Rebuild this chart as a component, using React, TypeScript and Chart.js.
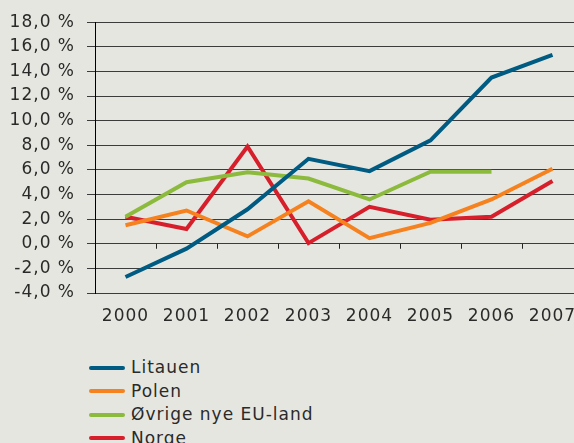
import React, { useEffect, useRef } from "react";
import { Chart, registerables } from "chart.js";

Chart.register(...registerables);

const years = ["2000", "2001", "2002", "2003", "2004", "2005", "2006", "2007"];
const litauen = [-2.7, -0.4, 2.8, 6.9, 5.9, 8.4, 13.5, 15.35];
const polen = [1.5, 2.7, 0.6, 3.45, 0.45, 1.7, 3.6, 6.1];
const ovrige = [2.2, 5.0, 5.8, 5.3, 3.6, 5.85, 5.85, null];
const norge = [2.2, 1.2, 7.9, 0.05, 3.0, 1.95, 2.2, 5.1];

const seriesNames = ["Litauen", "Polen", "Øvrige nye EU-land", "Norge"];
const seriesColors = ["#005b82", "#f5821f", "#8cba3c", "#d71f2b"];

const yMin = -4;
const yMax = 18;
const yStep = 2;

const BG = "#e6e6e0";
const FONT = "'DejaVu Sans', sans-serif";
const TEXT = "#2a2a2a";

const spacingPlugin = {
  id: "spacing",
  beforeLayout(chart: any) {
    chart.ctx.letterSpacing = "1px";
  },
  beforeDraw(chart: any) {
    chart.ctx.letterSpacing = "1px";
  },
};

const zeroTicksPlugin = {
  id: "zeroTicks",
  beforeDatasetsDraw(chart: any) {
    const x = chart.scales.x;
    const y = chart.scales.y;
    const ctx = chart.ctx;
    const y0 = y.getPixelForValue(0);
    ctx.save();
    ctx.strokeStyle = "#222";
    ctx.lineWidth = 1;
    for (let i = 1; i < years.length; i++) {
      const xp = Math.round((x.getPixelForValue(i - 1) + x.getPixelForValue(i)) / 2) + 0.5;
      ctx.beginPath();
      ctx.moveTo(xp, y0);
      ctx.lineTo(xp, y0 + 5);
      ctx.stroke();
    }
    ctx.restore();
  },
};

export default function App() {
  const ref = useRef<HTMLCanvasElement>(null);
  useEffect(() => {
    if (!ref.current) return;
    const data = [litauen, polen, ovrige, norge];
    const chart = new Chart(ref.current, {
      type: "line",
      data: {
        labels: years,
        datasets: data.map((d, i) => ({
          label: seriesNames[i],
          data: d as any,
          borderColor: seriesColors[i],
          backgroundColor: seriesColors[i],
          borderWidth: 4,
          pointRadius: 0,
          tension: 0,
          spanGaps: false,
        })),
      },
      options: {
        animation: false,
        responsive: true,
        maintainAspectRatio: false,
        layout: { padding: { top: 19, left: 0, right: 0, bottom: 0 } },
        plugins: {
          legend: { display: false },
          tooltip: { enabled: false },
        },
        scales: {
          x: {
            offset: true,
            grid: { display: false },
            border: { display: false },
            ticks: {
              color: TEXT,
              font: { family: FONT, size: 17 },
              padding: 5,
              maxRotation: 0,
              autoSkip: false,
            },
            afterFit(scale: any) {
              scale.height = 47;
            },
          },
          y: {
            min: yMin,
            max: yMax,
            ticks: {
              stepSize: yStep,
              color: TEXT,
              font: { family: FONT, size: 17 },
              padding: 12,
              callback: (v: any) => Number(v).toFixed(1).replace(".", ",") + " %",
            },
            grid: { color: "#3c3c3c", lineWidth: 1, tickLength: 8 },
            border: { display: true, color: "#000", width: 1 },
            afterFit(scale: any) {
              scale.width = 95;
            },
          },
        },
      },
      plugins: [spacingPlugin, zeroTicksPlugin],
    });
    return () => chart.destroy();
  }, []);

  return (
    <div
      style={{
        position: "fixed",
        left: 0,
        top: 0,
        width: 574,
        height: 443,
        overflow: "hidden",
        background: BG,
      }}
    >
      <div style={{ position: "absolute", left: 0, top: 0, width: 583, height: 340 }}>
        <canvas ref={ref} />
      </div>
      <div style={{ position: "absolute", left: 89, top: 356, fontFamily: FONT, fontSize: 17, color: TEXT, letterSpacing: "1px" }}>
        {seriesNames.map((n, i) => (
          <div key={n} style={{ display: "flex", alignItems: "center", height: 23.5 }}>
            <span
              style={{
                display: "inline-block",
                width: 36,
                height: 4,
                borderRadius: 2,
                background: seriesColors[i],
                marginRight: 6,
              }}
            />
            <span style={{ lineHeight: "23.5px" }}>{n}</span>
          </div>
        ))}
      </div>
    </div>
  );
}
